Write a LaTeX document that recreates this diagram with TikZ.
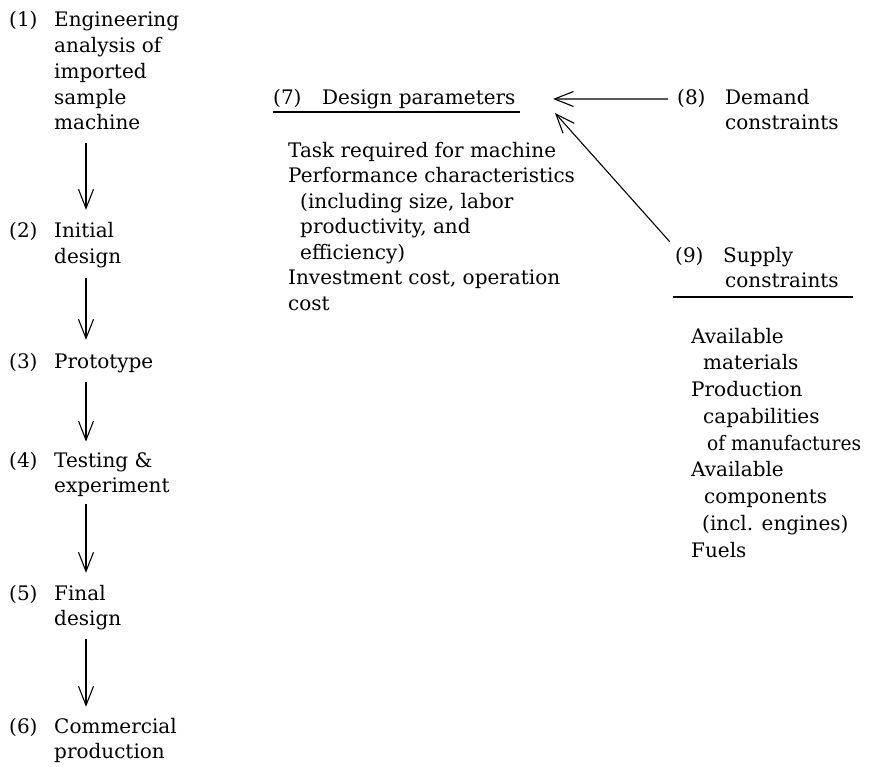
\documentclass[tikz,border=0pt]{standalone}
\usepackage{fontspec}
\setmainfont{DejaVu Serif}
\newfontfamily\narrowserif[FakeStretch=0.93]{DejaVu Serif}
\usetikzlibrary{arrows.meta}
\newcommand\fsL{\fontsize{20}{25.75}\selectfont}
\newcommand\fsA{\fontsize{20}{25}\selectfont}
\newcommand\fsM{\fontsize{20}{25.5}\selectfont}
\newcommand\fsR{\fontsize{20}{26.75}\selectfont}
\begin{document}
\begin{tikzpicture}[x=1pt,y=-1pt,
  lab/.style={anchor=base west, inner sep=0pt, font=\fsL},
  blk/.style={anchor=base west, inner sep=0pt, align=left, font=\fsL},
  arr/.style={line width=1.1pt, -{Straight Barb[length=19pt,width=15pt,line width=1.1pt]}},
  rule/.style={line width=1.1pt}]
\fill[white] (0,0) rectangle (886,767);
\useasboundingbox (0,0) rectangle (886,767);
% left column (multi-line nodes are anchored at the baseline of their last line)
\coordinate (ax) at (86,0);
\node[lab] (l1) at (9,27) {(1)};
\node[blk] (t1) at (54,130) {Engineering\\analysis of\\imported\\sample\\machine};
\node[lab] (l2) at (9,238) {(2)};
\node[blk] (t2) at (54,263.75) {Initial\\design};
\node[lab] (l3) at (9,368) {(3)};
\node[lab] (t3) at (54,368) {Prototype};
\node[lab] (l4) at (9,467) {(4)};
\node[blk] (t4) at (54,492.75) {Testing \&\\experiment};
\node[lab] (l5) at (9,600) {(5)};
\node[blk] (t5) at (54,625.75) {Final\\design};
\node[lab] (l6) at (9,733) {(6)};
\node[blk] (t6) at (54,758.75) {Commercial\\production};
\draw[arr, shorten <=13pt, shorten >=12.8pt] (t1.south -| ax) -- (t2.north -| ax);
\draw[arr, shorten <=9.3pt, shorten >=13.4pt] (t2.south -| ax) -- (t3.north -| ax);
\draw[arr, shorten <=9.3pt, shorten >=10.4pt] (t3.south -| ax) -- (t4.north -| ax);
\draw[arr, shorten <=7.3pt, shorten >=11.8pt] (t4.south -| ax) -- (t5.north -| ax);
\draw[arr, shorten <=8.3pt, shorten >=10.8pt] (t5.south -| ax) -- (t6.north -| ax);
% middle block
\node[lab] (l7) at (273,105) {(7)};
\node[lab] (t7) at (322,105) {Design parameters};
\draw[rule] (273,112) -- (520,112);
\node[blk, font=\fsM] (b7) at (288,310) {Task required for machine\\Performance characteristics\\\hspace*{12pt}(including size, labor\\\hspace*{12pt}productivity, and\\\hspace*{12pt}efficiency)\\Investment cost, operation\\cost};
% right block
\node[lab] (l8) at (677,105) {(8)};
\node[blk, font=\fsA] (t8) at (725,130) {Demand\\constraints};
\node[lab] (l9) at (675,263) {(9)};
\node[blk, font=\fsA] (t9) at (723,288) {Supply\\\hspace*{2pt}constraints};
\draw[rule] (673,297) -- (853,297);
\node[blk, font=\fsR] (b9) at (691,557) {Available\\\hspace*{12pt}materials\\Production\\\hspace*{12pt}capabilities\\\hspace*{16pt}{\narrowserif of manufactures}\\Available\\\hspace*{13pt}components\\\hspace*{11pt}(incl. engines)\\Fuels};
% arrows into (7)
\coordinate (tip8) at (553,99);
\coordinate (tip9) at (555,113);
\draw[arr, shorten <=9pt] (l8.west) -- (tip8);
\draw[arr, shorten <=8pt] (l9.north west) -- (tip9);
\end{tikzpicture}
\end{document}
